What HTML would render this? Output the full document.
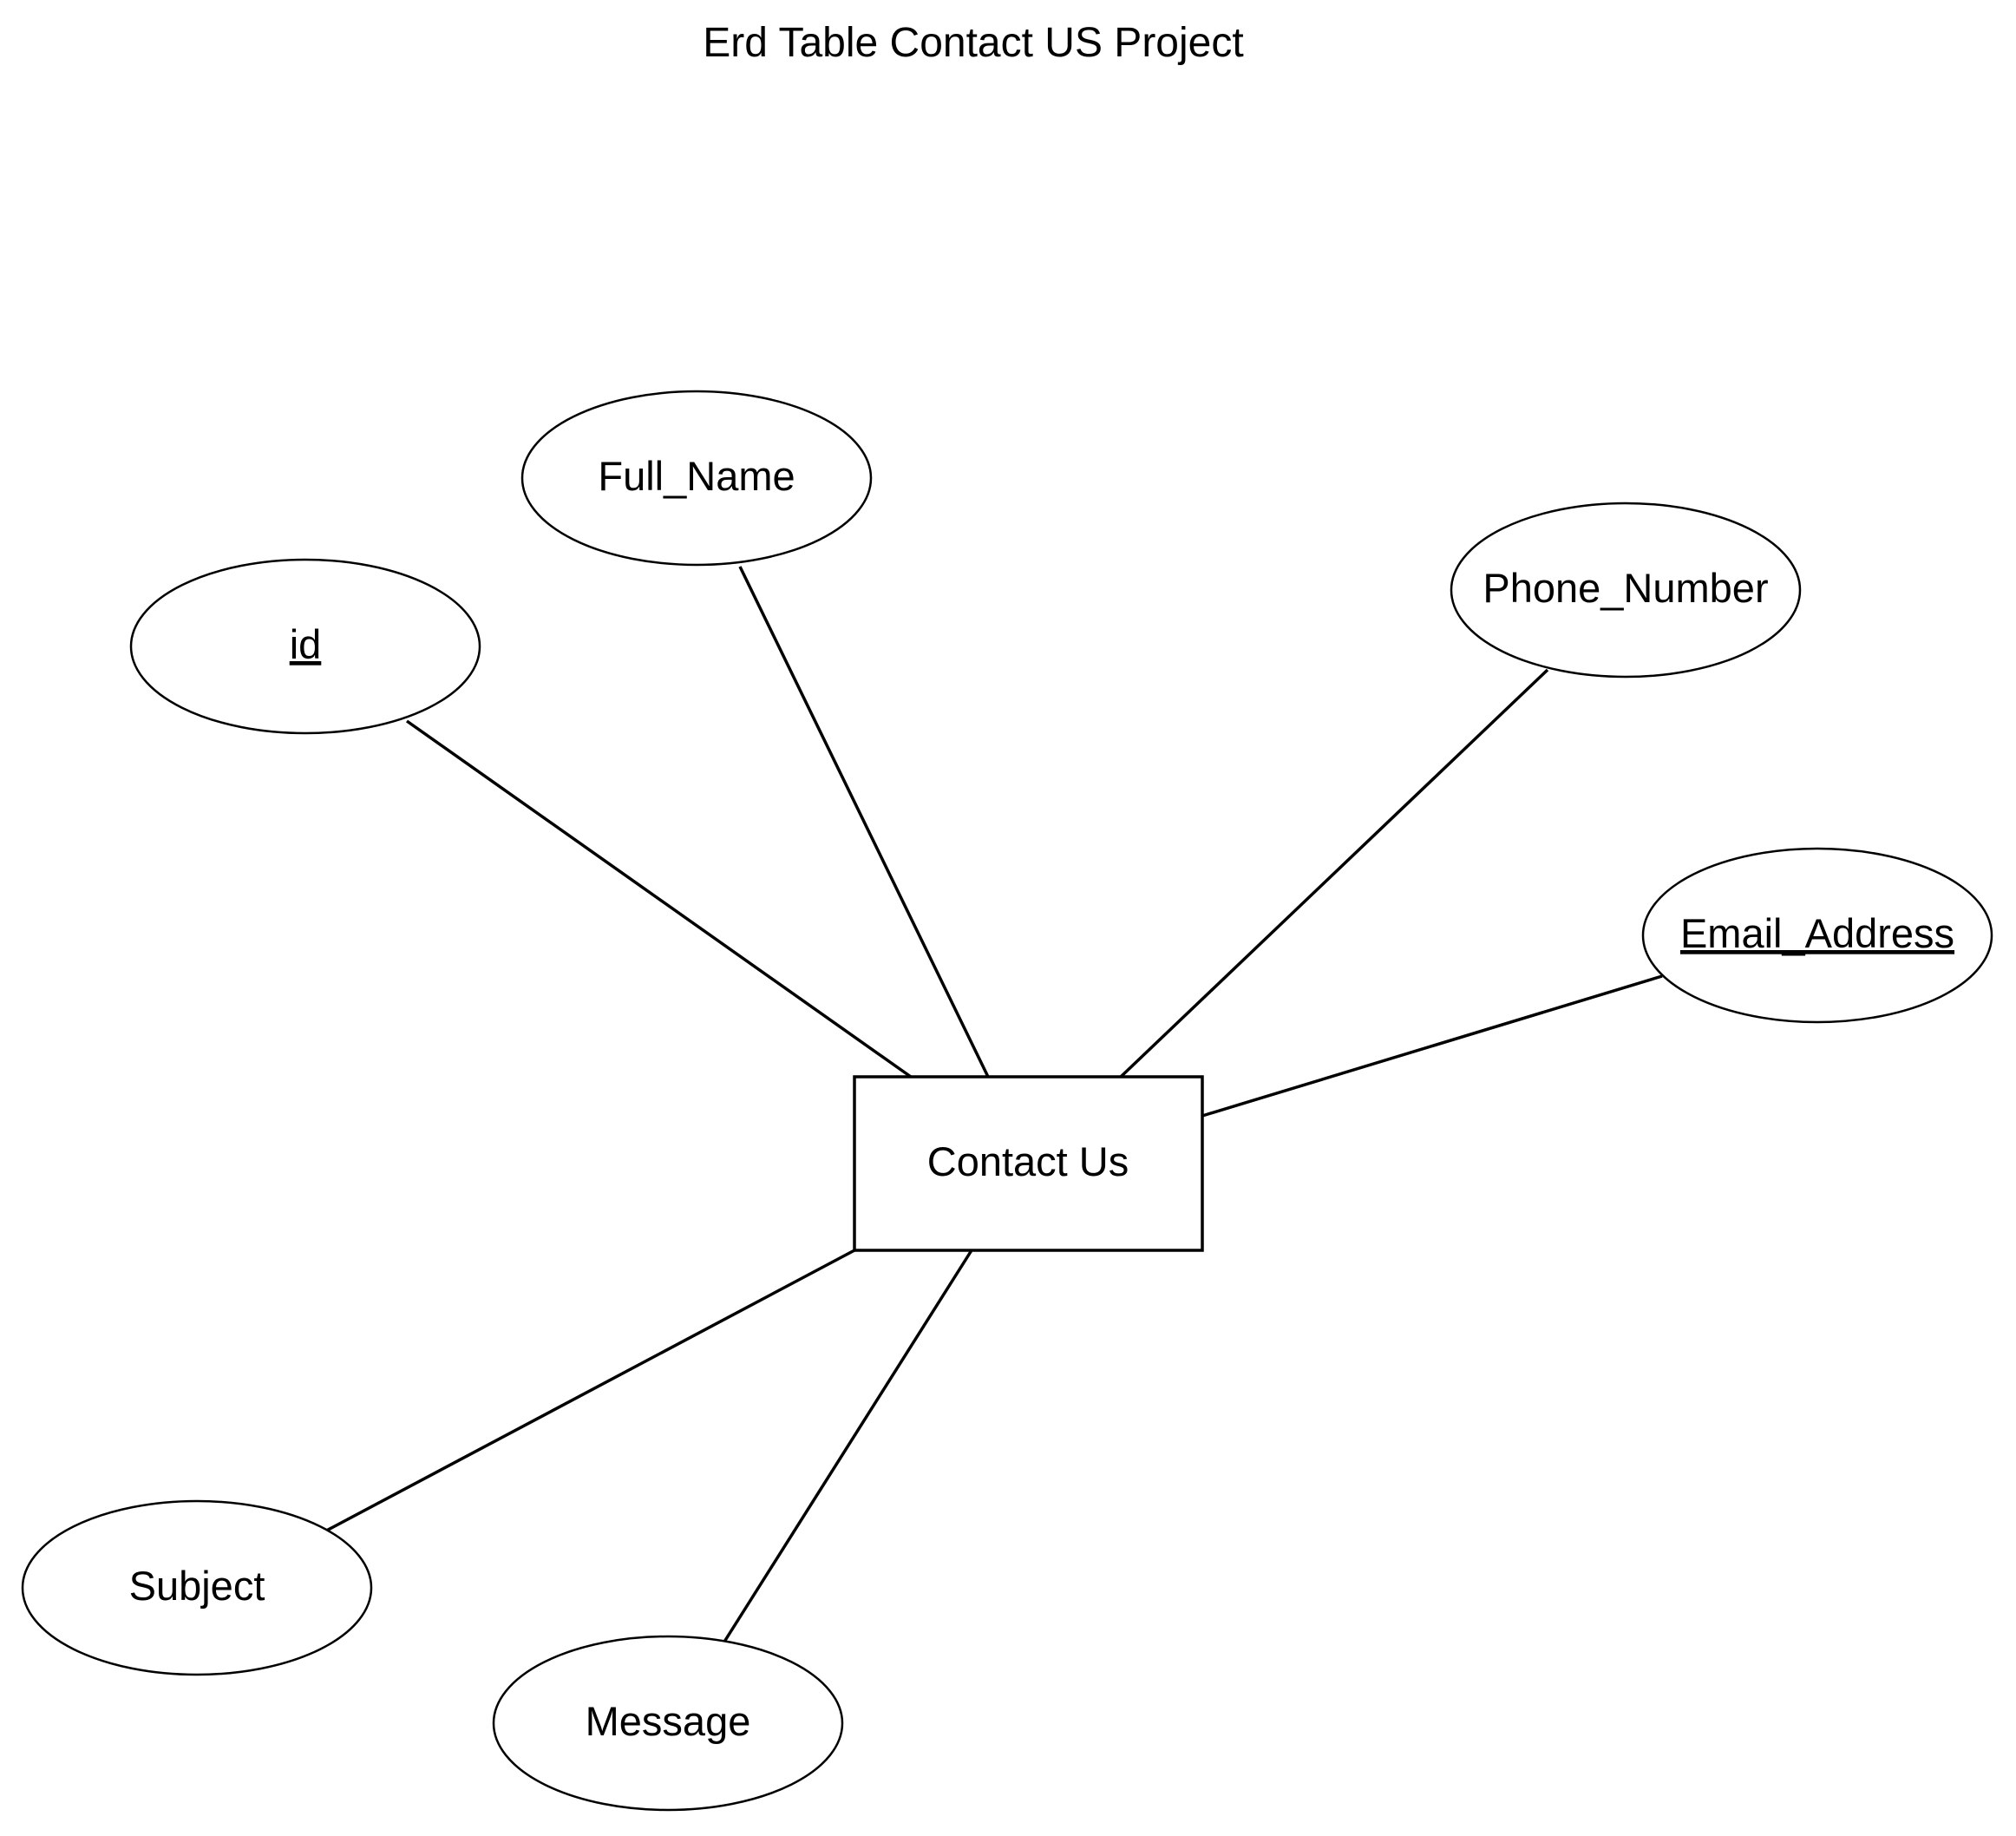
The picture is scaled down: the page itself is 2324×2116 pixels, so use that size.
<!DOCTYPE html>
<html><head><meta charset="utf-8"><style>html,body{margin:0;padding:0;background:#fff}svg{display:block}</style></head>
<body>
<svg width="2324" height="2116" viewBox="0 0 2324 2116" xmlns="http://www.w3.org/2000/svg" font-family="Liberation Sans, sans-serif" font-size="47" fill="#000">
<rect width="2324" height="2116" fill="#fff"/>
<text x="1122" y="65" text-anchor="middle" font-size="48">Erd Table Contact US Project</text>
<g stroke="#000" stroke-width="3.5" fill="none">
<line x1="469" y1="831" x2="1050" y2="1241"/>
<line x1="853" y1="653" x2="1139" y2="1241"/>
<line x1="1784" y1="772" x2="1292" y2="1241"/>
<line x1="1916" y1="1125" x2="1386" y2="1286"/>
<line x1="367" y1="1769" x2="985" y2="1441"/>
<line x1="830" y1="1900" x2="1120" y2="1441"/>
</g>
<g stroke="#000" stroke-width="2.5" fill="#fff">
<ellipse cx="803" cy="551" rx="201" ry="100"/>
<ellipse cx="352" cy="745" rx="201" ry="100"/>
<ellipse cx="1874" cy="680" rx="201" ry="100"/>
<ellipse cx="2095" cy="1078" rx="201" ry="100"/>
<ellipse cx="227" cy="1830" rx="201" ry="100"/>
<ellipse cx="770" cy="1986" rx="201" ry="100"/>
</g>
<rect x="985" y="1241" width="401" height="200" fill="#fff" stroke="#000" stroke-width="3.5"/>
<g text-anchor="middle">
<text x="1185" y="1355">Contact Us</text>
<text x="803" y="565">Full_Name</text>
<text x="352" y="759" text-decoration="underline">id</text>
<text x="1874" y="694">Phone_Number</text>
<text x="2095" y="1092" text-decoration="underline">Email_Address</text>
<text x="227" y="1844">Subject</text>
<text x="770" y="2000">Message</text>
</g>
</svg>
</body></html>
